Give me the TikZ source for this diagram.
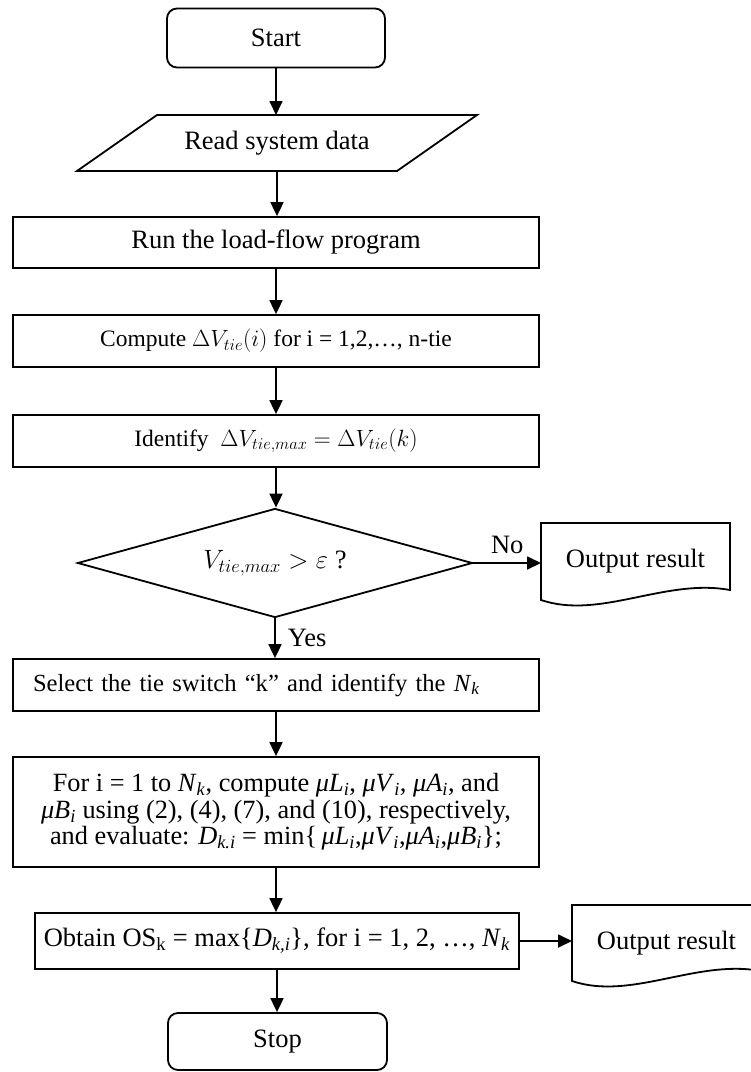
\RequirePackage{fix-cm}
\documentclass[tikz,border=0pt]{standalone}
\usepackage{fontspec}
\setmainfont{Liberation Serif}
\usetikzlibrary{arrows.meta,shapes.geometric}
\tikzset{
  lw/.style={line width=1.8pt},
  box/.style={draw, line width=1.8pt, rectangle, inner sep=0pt, align=center},
  term/.style={box, rounded corners=10pt},
  arr/.style={line width=1.8pt, -{Triangle[length=14pt,width=13pt]}},
  fbig/.style={font=\fontsize{26.5}{30}\selectfont},
  fsel/.style={font=\fontsize{24.6}{28}\selectfont},
  fmid/.style={font=\fontsize{23.5}{26}\selectfont},
  fmulti/.style={font=\fontsize{26.3}{26.5}\selectfont},
  ghost/.style={inner sep=0pt, outer sep=0pt}
}
\newcommand\docpath[1]{\draw[lw] (#1.north west) -- (#1.north east) -- ([yshift=10]#1.south east) .. controls ([xshift=-65,yshift=22]#1.south east) and ([xshift=59,yshift=-20]#1.south west) .. (#1.south west) -- cycle;}
\newcommand\sub[1]{\textsubscript{\textit{#1}}}
\begin{document}
\begin{tikzpicture}[x=1pt,y=1pt]
\useasboundingbox (0,0) rectangle (751,-1072);
\clip (0,0) rectangle (751,-1072);

\node[term, fbig, minimum width=218, minimum height=59] (start) at (276,-38) {Start};
\node[ghost, fbig, minimum width=320, minimum height=56] (read) at (277,-143) {Read system data};
\draw[lw] ([xshift=40]read.north west) -- ([xshift=40]read.north east) -- ([xshift=-40]read.south east) -- ([xshift=-40]read.south west) -- cycle;
\node[box, fbig, minimum width=526, minimum height=51] (run) at (276,-242.5) {Run the load-flow program};
\node[box, fmid, minimum width=526, minimum height=52] (comp) at (276,-341) {Compute $\Delta V_{tie}(i)$ for i = 1,2,…, n-tie};
\node[box, fmid, minimum width=526, minimum height=52] (ident) at (276,-441) {Identify\ \ $\Delta V_{tie,max} = \Delta V_{tie}(k)$};
\node[draw, diamond, aspect=3.6, line width=1.8pt, inner sep=0pt, minimum width=395, minimum height=109, fbig] (dia) at (275,-563) {$V_{tie,max} > \varepsilon$ ?};
\node[ghost, fbig, minimum width=189, minimum height=77] (out1) at (635.5,-561.5) {Output result};
\docpath{out1}
\node[box, fsel, minimum width=526, minimum height=52, text width=486, inner xsep=20pt, align=left] (sel) at (276,-685) {Select the tie switch “k” and identify the \textit{N}\sub{k}};
\node[box, fmulti, minimum width=526, minimum height=110] (big) at (276,-812) {For i = 1 to \textit{N}\sub{k}, compute \textit{μL}\sub{i}, \textit{μV}\sub{i}, \textit{μA}\sub{i}, and\\ \textit{μB}\sub{i} using (2), (4), (7), and (10), respectively,\\ and evaluate: \textit{D}\sub{k.i} = min\{\,\textit{μL}\sub{i},\textit{μV}\sub{i},\textit{μA}\sub{i},\textit{μB}\sub{i}\};};
\node[box, fbig, minimum width=484, minimum height=56] (obt) at (277,-941) {Obtain OS\textsubscript{k} = max\{\textit{D}\sub{k,i}\}, for i = 1, 2, …, \textit{N}\sub{k}};
\node[ghost, fbig, minimum width=189, minimum height=76] (out2) at (666.5,-943) {Output result};
\docpath{out2}
\node[term, fbig, minimum width=219, minimum height=57] (stop) at (277.5,-1041.5) {Stop};

\draw[arr] (start.south) -- (start.south |- read.north);
\draw[arr] (read.south) -- (read.south |- run.north);
\draw[arr] (run.south) -- (run.south |- comp.north);
\draw[arr] (comp.south) -- (comp.south |- ident.north);
\draw[arr] (ident.south) -- (ident.south |- dia.north);
\draw[arr] (dia.east) -- node[fbig, above, inner sep=0pt, yshift=8pt] {No} (dia.east -| out1.west);
\draw[arr] (dia.south) -- node[fbig, right, inner sep=0pt, xshift=12pt] {Yes} (dia.south |- sel.north);
\draw[arr] (sel.south) -- (sel.south |- big.north);
\draw[arr] (big.south) -- (big.south |- obt.north);
\draw[arr] (obt.east) -- (obt.east -| out2.west);
\draw[arr] (obt.south) -- (obt.south |- stop.north);
\end{tikzpicture}
\end{document}
